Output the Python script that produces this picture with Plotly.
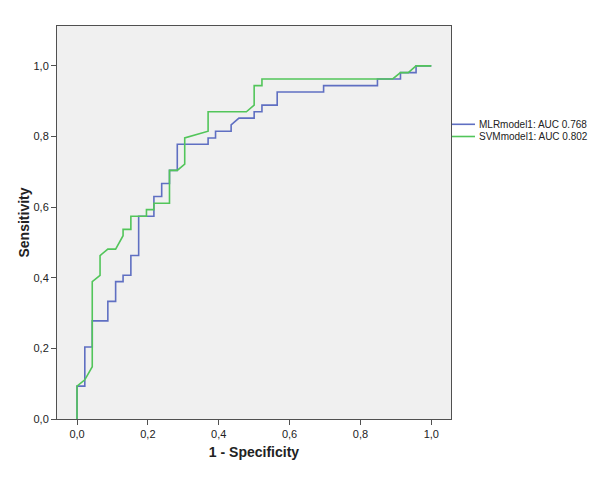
import plotly.graph_objects as go

# ROC curve points (1 - specificity, sensitivity)
mlr_fpr = [0, 0, 0.022, 0.022, 0.043, 0.043, 0.087, 0.087, 0.109, 0.109, 0.130, 0.130,
           0.152, 0.152, 0.174, 0.174, 0.217, 0.217, 0.239, 0.239, 0.261, 0.261, 0.283,
           0.283, 0.370, 0.370, 0.391, 0.391, 0.435, 0.435, 0.457, 0.500, 0.500, 0.522,
           0.522, 0.565, 0.565, 0.696, 0.696, 0.848, 0.848, 0.913, 0.913, 0.957, 0.957, 1.0]
mlr_sens = [0, 0.093, 0.093, 0.204, 0.204, 0.278, 0.278, 0.333, 0.333, 0.389, 0.389, 0.407,
            0.407, 0.463, 0.463, 0.574, 0.574, 0.630, 0.630, 0.667, 0.667, 0.704, 0.704,
            0.778, 0.778, 0.796, 0.796, 0.815, 0.815, 0.833, 0.852, 0.852, 0.870, 0.870,
            0.889, 0.889, 0.926, 0.926, 0.944, 0.944, 0.963, 0.963, 0.981, 0.981, 1.0, 1.0]

svm_fpr = [0, 0, 0.022, 0.043, 0.043, 0.065, 0.065, 0.087, 0.109, 0.130, 0.130, 0.152,
           0.152, 0.196, 0.196, 0.217, 0.217, 0.261, 0.261, 0.283, 0.304, 0.304, 0.370,
           0.370, 0.478, 0.500, 0.500, 0.522, 0.522, 0.891, 0.913, 0.935, 0.957, 1.0]
svm_sens = [0, 0.093, 0.111, 0.148, 0.389, 0.407, 0.463, 0.481, 0.481, 0.519, 0.537, 0.537,
            0.574, 0.574, 0.593, 0.593, 0.611, 0.611, 0.704, 0.704, 0.722, 0.796, 0.815,
            0.870, 0.870, 0.889, 0.944, 0.944, 0.963, 0.963, 0.981, 0.981, 1.0, 1.0]

series_names = ["MLRmodel1: AUC 0.768", "SVMmodel1: AUC 0.802"]
series_colors = ["#5f6fc2", "#52c55a"]

tick_vals = [0, 0.2, 0.4, 0.6, 0.8, 1.0]
tick_text = ["0,0", "0,2", "0,4", "0,6", "0,8", "1,0"]

FONT = "Liberation Sans, Arial, sans-serif"

fig = go.Figure()
fig.add_trace(go.Scatter(x=mlr_fpr, y=mlr_sens, mode="lines", name=series_names[0],
                         line=dict(color=series_colors[0], width=1.6), showlegend=False))
fig.add_trace(go.Scatter(x=svm_fpr, y=svm_sens, mode="lines", name=series_names[1],
                         line=dict(color=series_colors[1], width=1.6), showlegend=False))

# page has an 8px body margin; figure is sized to fit the 600x481 window
FW, FH = 592, 473
L, R, T, B = 49, 149, 18, 62
W, H = FW - L - R, FH - T - B
PLOT_LEFT_PAGE, PLOT_BOTTOM_PAGE = 57, 419
def px(xp):
    return (xp - PLOT_LEFT_PAGE) / W
def py(yp):
    return (PLOT_BOTTOM_PAGE - yp) / H

# legend drawn manually (compact SPSS-style)
for i, (name, col) in enumerate(zip(series_names, series_colors)):
    yc = 124.3 + i * 12.2
    fig.add_shape(type="line", xref="paper", yref="paper",
                  x0=px(452), x1=px(475), y0=py(yc), y1=py(yc),
                  line=dict(color=col, width=1.6))
    fig.add_annotation(xref="paper", yref="paper", x=px(477), y=py(yc),
                       xanchor="left", yanchor="middle", text=name, showarrow=False,
                       font=dict(family=FONT, size=10, color="#222"))

axis_common = dict(showgrid=False, zeroline=False, showline=True, mirror=True,
                   linecolor="#505050", linewidth=1, ticks="outside", ticklen=5,
                   tickcolor="#505050", tickwidth=1,
                   tickvals=tick_vals, ticktext=tick_text,
                   tickfont=dict(family=FONT, size=11, color="#222"))

fig.update_xaxes(range=[-0.0565, 1.0556], **axis_common,
                 title=dict(text="<b>1 - Specificity</b>", standoff=7,
                            font=dict(family=FONT, size=14, color="#222")))
fig.update_yaxes(range=[0, 1.113], **axis_common,
                 title=dict(text="<b>Sensitivity</b>", standoff=0,
                            font=dict(family=FONT, size=14, color="#222")))

fig.update_layout(width=FW, height=FH,
                  margin=dict(l=L, r=R, t=T, b=B, autoexpand=False),
                  plot_bgcolor="#f0f0f0", paper_bgcolor="white")

fig.write_html("out.html")
